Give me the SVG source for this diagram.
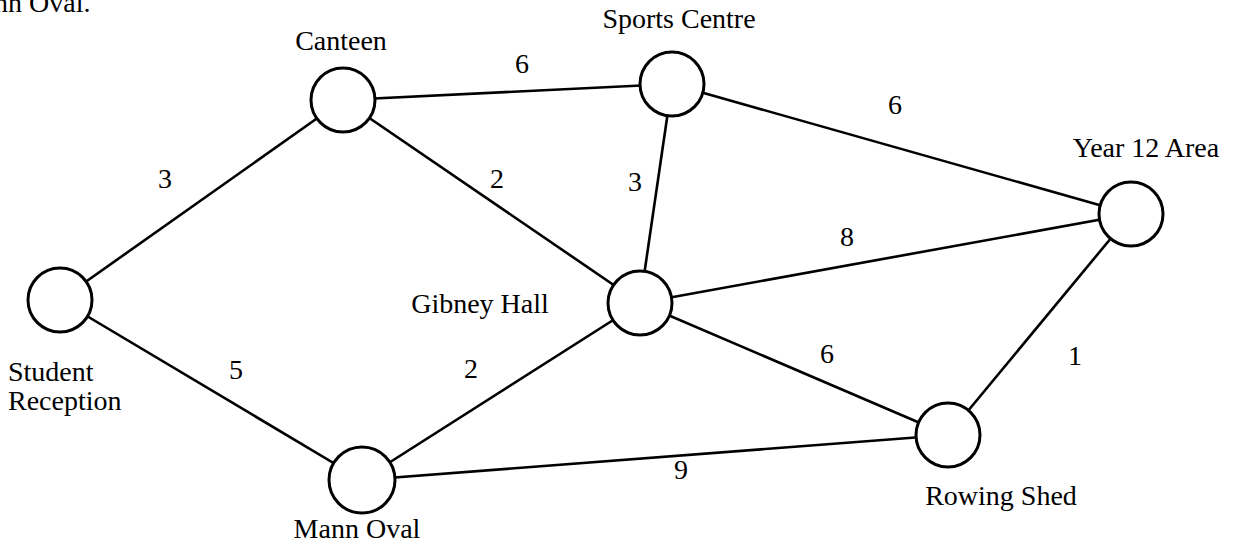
<svg xmlns="http://www.w3.org/2000/svg" width="1238" height="552" viewBox="0 0 1238 552">
  <style>
    .edge { stroke: #000; stroke-width: 2.6; fill: none; }
    .node { fill: #fff; stroke: #000; stroke-width: 3; }
    text { font-family: "Liberation Serif", "Times New Roman", serif; font-size: 28px; fill: #000; }
    .w { text-anchor: middle; }
    .lbl { text-anchor: middle; }
  </style>
  <rect width="1238" height="552" fill="#fff"/>
  <text x="-6" y="12">nn Oval.</text>

  <g id="connectors">
    <line class="edge" x1="343" y1="100" x2="672" y2="84"/>
    <line class="edge" x1="672" y1="84" x2="1131" y2="214"/>
    <line class="edge" x1="343" y1="100" x2="60" y2="300"/>
    <line class="edge" x1="343" y1="100" x2="640" y2="303"/>
    <line class="edge" x1="672" y1="84" x2="640" y2="303"/>
    <line class="edge" x1="640" y1="303" x2="1131" y2="214"/>
    <line class="edge" x1="60" y1="300" x2="362" y2="480"/>
    <line class="edge" x1="640" y1="303" x2="362" y2="480"/>
    <line class="edge" x1="640" y1="303" x2="948" y2="435"/>
    <line class="edge" x1="1131" y1="214" x2="948" y2="435"/>
    <line class="edge" x1="362" y1="480" x2="948" y2="435"/>
    <text class="w" x="522" y="73">6</text>
    <text class="w" x="895" y="114">6</text>
    <text class="w" x="165" y="188">3</text>
    <text class="w" x="497" y="188">2</text>
    <text class="w" x="635" y="191">3</text>
    <text class="w" x="847" y="246">8</text>
    <text class="w" x="236" y="379">5</text>
    <text class="w" x="471" y="378">2</text>
    <text class="w" x="827" y="363">6</text>
    <text class="w" x="1075" y="365">1</text>
    <text class="w" x="681" y="479">9</text>
  </g>

  <g id="canteen">
    <circle class="node" cx="343" cy="100" r="32"/>
    <text class="lbl" x="341" y="50">Canteen</text>
  </g>
  <g id="sports-centre">
    <circle class="node" cx="672" cy="84" r="32"/>
    <text class="lbl" x="679" y="28">Sports Centre</text>
  </g>
  <g id="year-12-area">
    <circle class="node" cx="1131" cy="214" r="32"/>
    <text class="lbl" x="1146" y="157">Year 12 Area</text>
  </g>
  <g id="student-reception">
    <circle class="node" cx="60" cy="300" r="32"/>
    <text x="8" y="381">Student</text>
    <text x="8" y="410">Reception</text>
  </g>
  <g id="gibney-hall">
    <circle class="node" cx="640" cy="303" r="32"/>
    <text class="lbl" x="480" y="313">Gibney Hall</text>
  </g>
  <g id="mann-oval">
    <circle class="node" cx="362" cy="480" r="33"/>
    <text class="lbl" x="357" y="538">Mann Oval</text>
  </g>
  <g id="rowing-shed">
    <circle class="node" cx="948" cy="435" r="32"/>
    <text class="lbl" x="1001" y="505">Rowing Shed</text>
  </g>
</svg>
